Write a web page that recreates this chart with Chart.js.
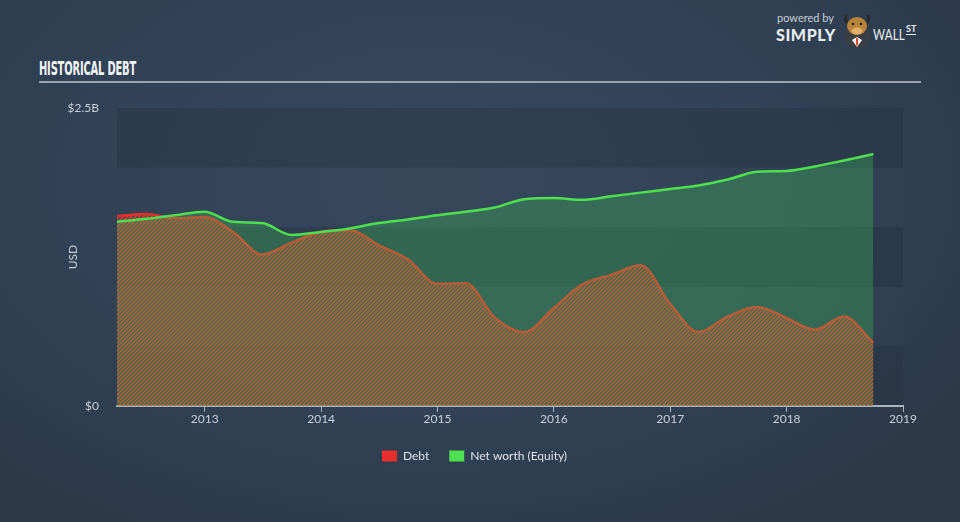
<!DOCTYPE html>
<html>
<head>
<meta charset="utf-8">
<script src="https://cdn.jsdelivr.net/npm/chart.js@4.4.1/dist/chart.umd.min.js"></script>
<style>
  html, body { margin:0; padding:0; }
  body {
    width:960px; height:522px; overflow:hidden; position:relative;
    background: radial-gradient(ellipse 70% 80% at 45% 35%, #36485b 0%, #314256 55%, #2b3847 100%);
    font-family: Lato, "Open Sans", sans-serif;
  }
  #title {
    position:absolute; left:39px; top:57px; color:#f2f4f6;
    font-family:"Liberation Sans Narrow","DejaVu Sans Condensed",sans-serif;
    font-weight:bold; font-size:19px; white-space:nowrap; transform-origin:0 0; letter-spacing:-0.3px;
  }
  #rule { position:absolute; left:39px; top:81px; width:882px; height:2px; background:#9aa4ae; }
  #logo { position:absolute; left:774px; top:8px; width:160px; height:44px; }
  #pw { position:absolute; left:3px; top:3px; font-size:11px; color:#c9cfd6; font-family:Lato,sans-serif; }
  #simply { position:absolute; left:2px; top:17px; font-size:16px; font-weight:900; color:#e9ecef; letter-spacing:0.6px; font-family:Lato,sans-serif; }
  #wall { position:absolute; left:99px; top:17px; font-size:15px; font-weight:400; color:#e9ecef; letter-spacing:0.2px; font-family:Lato,sans-serif; transform-origin:0 0; white-space:nowrap; }
  #st { position:absolute; left:132px; top:16px; font-size:9px; font-weight:700; color:#e9ecef; border-bottom:1.5px solid #e9ecef; line-height:10px; font-family:Lato,sans-serif; }
  #bull { position:absolute; left:68px; top:3px; }
  canvas { position:absolute; left:0; top:0; }
</style>
</head>
<body>
<div id="title">HISTORICAL DEBT</div>
<div id="rule"></div>
<div id="logo">
  <div id="pw">powered by</div>
  <div id="simply">SIMPLY</div>
  <svg id="bull" width="30" height="38" viewBox="0 0 30 38">
    <circle cx="15" cy="24" r="13" fill="#3a3f46"/>
    <path d="M4 4 Q2 12 8 13 M26 4 Q28 12 22 13" stroke="#2a2a2a" stroke-width="3" fill="none"/>
    <ellipse cx="15" cy="15" rx="10" ry="9" fill="#b9853a"/>
    <ellipse cx="15" cy="20" rx="5.5" ry="3.5" fill="#e2b06a"/>
    <circle cx="11" cy="13" r="1.3" fill="#222"/>
    <circle cx="19" cy="13" r="1.3" fill="#222"/>
    <path d="M10 29 L15 26 L20 29 L15 36 Z" fill="#ffffff"/>
    <path d="M14.1 27 L15.9 27 L16.2 33 L15 35.5 L13.8 33 Z" fill="#d8452a"/>
  </svg>
  <div id="wall">WALL</div>
  <div id="st">ST</div>
</div>
<canvas id="c" width="960" height="522"></canvas>
<script>
// ---- data ----
const quarterDates = [
  '2012-03-31','2012-06-30','2012-09-30','2012-12-31',
  '2013-03-31','2013-06-30','2013-09-30','2013-12-31',
  '2014-03-31','2014-06-30','2014-09-30','2014-12-31',
  '2015-03-31','2015-06-30','2015-09-30','2015-12-31',
  '2016-03-31','2016-06-30','2016-09-30','2016-12-31',
  '2017-03-31','2017-06-30','2017-09-30','2017-12-31',
  '2018-03-31','2018-06-30','2018-09-30'
];
const debtValues = [
  1.594, 1.61, 1.575, 1.585,
  1.46, 1.27, 1.37, 1.46,
  1.476, 1.35, 1.23, 1.025,
  1.03, 0.74, 0.62, 0.82,
  1.02, 1.10, 1.18, 0.86,
  0.62, 0.75, 0.83, 0.74,
  0.64, 0.75, 0.53
];
const equityValues = [
  1.545, 1.57, 1.60, 1.63,
  1.545, 1.535, 1.435, 1.46,
  1.49, 1.535, 1.565, 1.60,
  1.63, 1.665, 1.735, 1.745,
  1.73, 1.76, 1.79, 1.82,
  1.85, 1.90, 1.965, 1.972,
  2.01, 2.06, 2.114
];
const seriesNames = ['Debt', 'Net worth (Equity)'];
const xTickLabels = ['2013','2014','2015','2016','2017','2018','2019'];
const yTickValues = [0, 2.5];
const yTickLabels = ['$0', '$2.5B'];
const yAxisTitle = 'USD';

// ---- helpers ----
function yearFrac(s) {
  const d = new Date(s + 'T00:00:00Z');
  const y = d.getUTCFullYear();
  const start = Date.UTC(y, 0, 1), end = Date.UTC(y + 1, 0, 1);
  return y + (d.getTime() - start) / (end - start);
}
const xs = quarterDates.map(yearFrac);

function fitWidth(id, w) {
  const t = document.getElementById(id);
  const cur = t.getBoundingClientRect().width;
  t.style.transform = 'scaleX(' + (w / cur) + ')';
}
fitWidth('title', 97);
fitWidth('wall', 32);

function makeHatch() {
  const p = document.createElement('canvas');
  p.width = 4; p.height = 4;
  const g = p.getContext('2d');
  g.fillStyle = 'rgba(210,50,40,0.2)';
  g.fillRect(0,0,4,4);
  g.strokeStyle = 'rgba(236,60,44,0.95)';
  g.lineWidth = 1.4;
  g.beginPath();
  g.moveTo(-1, 5); g.lineTo(5, -1);
  g.moveTo(-1, 1); g.lineTo(1, -1);
  g.moveTo(3, 5); g.lineTo(5, 3);
  g.stroke();
  return g.createPattern(p, 'repeat');
}
const ctx = document.getElementById('c').getContext('2d');
const hatch = makeHatch();

const bandPlugin = {
  id: 'bands',
  beforeDraw(chart) {
    const {ctx, chartArea, scales} = chart;
    const y = scales.y;
    ctx.save();
    for (let i = 0; i < 5; i++) {
      const lo = i * 0.5, hi = lo + 0.5;
      const top = y.getPixelForValue(hi), bot = y.getPixelForValue(lo);
      ctx.fillStyle = (i % 2 === 0) ? 'rgba(34,46,60,0.32)' : 'rgba(60,76,94,0.12)';
      ctx.fillRect(chartArea.left, top, chartArea.right - chartArea.left, bot - top);
    }
    ctx.restore();
  }
};

const debtColor = '#e8302a';
const equityColor = '#4fe04f';

new Chart(ctx, {
  type: 'line',
  data: {
    datasets: [
      {
        label: seriesNames[0],
        data: xs.map((x, i) => ({x, y: debtValues[i]})),
        borderColor: debtColor,
        borderWidth: 2.5,
        backgroundColor: hatch,
        fill: 'origin',
        pointRadius: 0,
        cubicInterpolationMode: 'monotone',
        order: 2
      },
      {
        label: seriesNames[1],
        data: xs.map((x, i) => ({x, y: equityValues[i]})),
        borderColor: equityColor,
        borderWidth: 2.5,
        backgroundColor: 'rgba(62,200,88,0.30)',
        fill: 'origin',
        pointRadius: 0,
        cubicInterpolationMode: 'monotone',
        order: 1
      }
    ]
  },
  options: {
    responsive: false,
    animation: false,
    layout: { padding: { left: 46, right: 57, top: 108, bottom: 50 } },
    plugins: {
      tooltip: { enabled: false },
      legend: {
        position: 'bottom',
        labels: {
          color: '#dfe3e8',
          font: { family: 'Lato', size: 12 },
          boxWidth: 15,
          boxHeight: 11,
          padding: 20,
          sort: (a, b) => a.datasetIndex - b.datasetIndex,
          generateLabels(chart) {
            return chart.data.datasets.map((ds, i) => ({
              text: ds.label,
              fillStyle: ds.borderColor,
              strokeStyle: 'rgba(0,0,0,0)',
              lineWidth: 0,
              datasetIndex: i,
              fontColor: '#dfe3e8',
              hidden: false
            }));
          }
        }
      }
    },
    scales: {
      x: {
        type: 'linear',
        min: xs[0],
        max: +xTickLabels[xTickLabels.length - 1],
        afterBuildTicks(scale) { scale.ticks = xTickLabels.map(v => ({ value: +v })); },
        afterFit(scale) { scale.height = 24; },
        ticks: {
          color: '#c9cfd6',
          font: { family: 'Lato', size: 12 },
          padding: 0,
          maxRotation: 0,
          autoSkip: false,
          callback: (v) => { const i = xTickLabels.indexOf(String(v)); return i >= 0 ? xTickLabels[i] : ''; }
        },
        grid: { drawOnChartArea: false, drawTicks: true, tickLength: 6, color: '#a9b3bd', lineWidth: 1 },
        border: { display: true, color: '#a9b3bd', width: 2 }
      },
      y: {
        min: 0,
        max: 2.5,
        afterBuildTicks(scale) { scale.ticks = yTickValues.map(v => ({ value: v })); },
        afterFit(scale) { scale.width = 71; },
        ticks: {
          color: '#c9cfd6',
          font: { family: 'Lato', size: 12 },
          padding: 10,
          callback: (v) => { const i = yTickValues.indexOf(v); return i >= 0 ? yTickLabels[i] : ''; }
        },
        grid: { display: false },
        border: { display: false },
        title: { display: true, text: yAxisTitle, color: '#c9cfd6', font: { family: 'Lato', size: 12 }, padding: { top: 20, bottom: 0 } }
      }
    }
  },
  plugins: [bandPlugin]
});
</script>
</body>
</html>
